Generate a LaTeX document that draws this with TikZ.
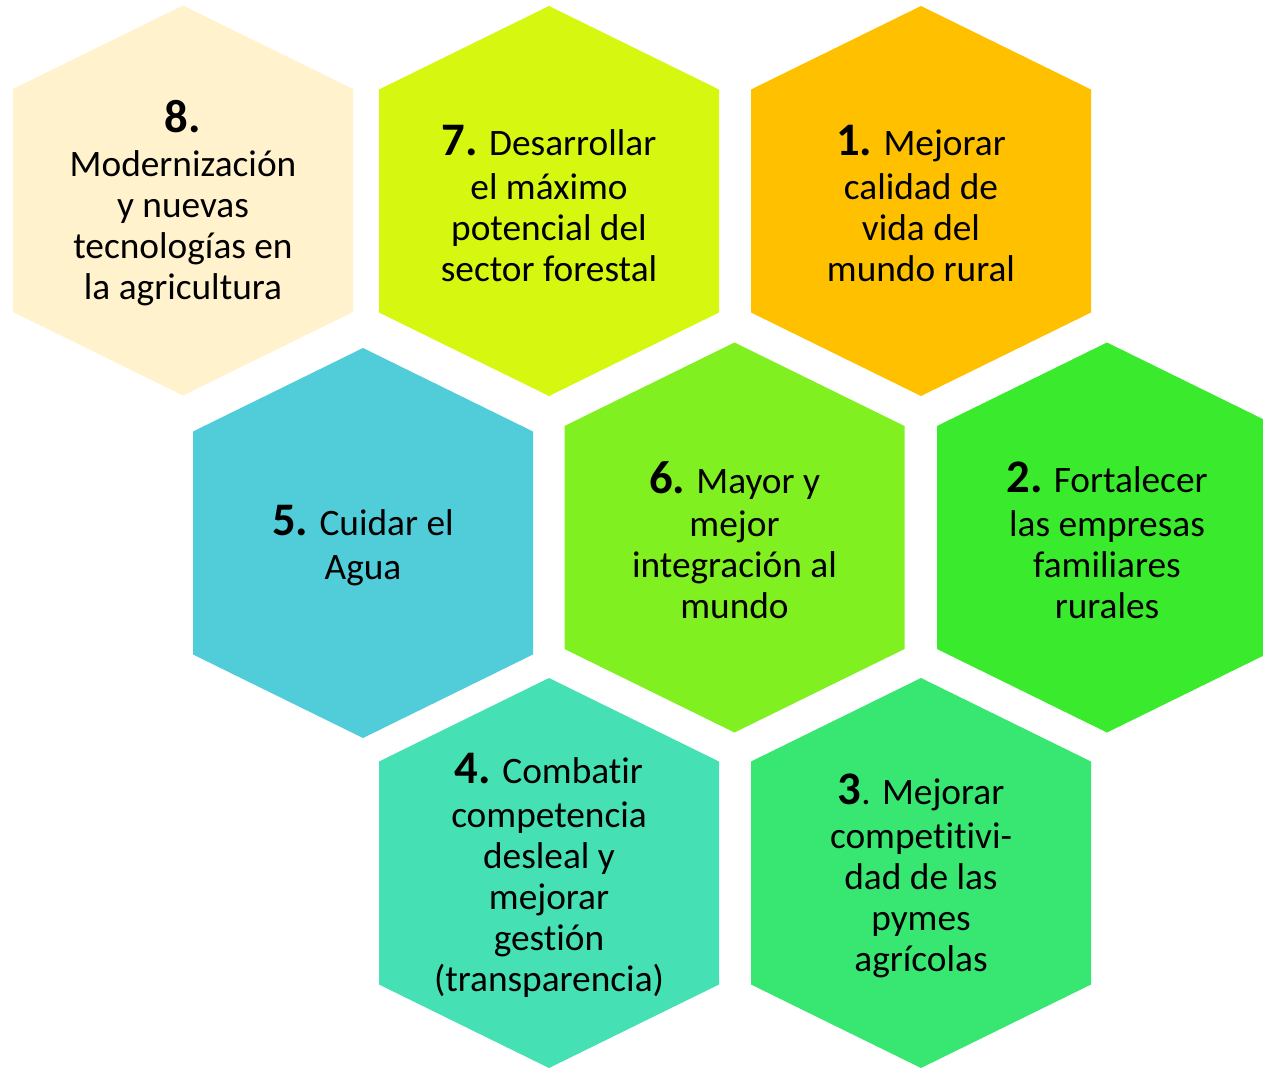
\documentclass[tikz,border=0pt]{standalone}
\usepackage{fontspec}
\setmainfont{Carlito}[Ligatures=CommonOff]

\definecolor{cream}{RGB}{255,242,204}
\definecolor{lime}{RGB}{213,247,16}
\definecolor{gold}{RGB}{255,192,0}
\definecolor{water}{RGB}{80,205,216}
\definecolor{leaf}{RGB}{128,240,32}
\definecolor{grass}{RGB}{58,235,45}
\definecolor{mint}{RGB}{69,224,179}
\definecolor{emerald}{RGB}{56,230,114}

\tikzset{
  hextext/.style={align=center,text=black,yshift=-2pt,font=\fontsize{28}{30.75}\selectfont},
}
% number of each goal, bigger and bold
\newcommand{\num}[1]{{\fontsize{35}{35}\selectfont\bfseries #1}}
% one hexagon: name, centre, colour, text
\newcommand{\hexcell}[4]{%
  \fill[#3,shift={#2}] (0,-195) -- (170,-111.5) -- (170,111.5) -- (0,195)
    -- (-170,111.5) -- (-170,-111.5) -- cycle;
  \node[hextext] (#1) at #2 {#4};
}

\begin{document}
\begin{tikzpicture}[x=0.75pt,y=-0.75pt]
    \clip (0,0) rectangle (1263,1067);
    \hexcell{hex8}{(183,200.5)}{cream}{\num{8.}\\[2pt] Modernización\\ y nuevas\\ tecnologías en\\ la agricultura}
    \hexcell{hex7}{(549,201)}{lime}{\num{7.} Desarrollar\\[2pt] el máximo\\ potencial del\\ sector forestal}
    \hexcell{hex1}{(921,201)}{gold}{\num{1.} Mejorar\\[2pt] calidad de\\ vida del\\ mundo rural}
    \hexcell{hex5}{(363,543)}{water}{\num{5.} Cuidar el\\[2pt] Agua}
    \hexcell{hex6}{(734.5,537.5)}{leaf}{\num{6.} Mayor y\\[2pt] mejor\\ integración al\\ mundo}
    \hexcell{hex2}{(1107,537.5)}{grass}{\num{2.} Fortalecer\\[2pt] las empresas\\ familiares\\ rurales}
    \hexcell{hex4}{(549,873)}{mint}{\num{4.} Combatir\\[2pt] competencia\\ desleal y\\ mejorar\\ gestión\\ (transparencia)}
    \hexcell{hex3}{(921,873)}{emerald}{\num{3}. Mejorar\\[2pt] competitivi-\\ dad de las\\ pymes\\ agrícolas}
\end{tikzpicture}
\end{document}
